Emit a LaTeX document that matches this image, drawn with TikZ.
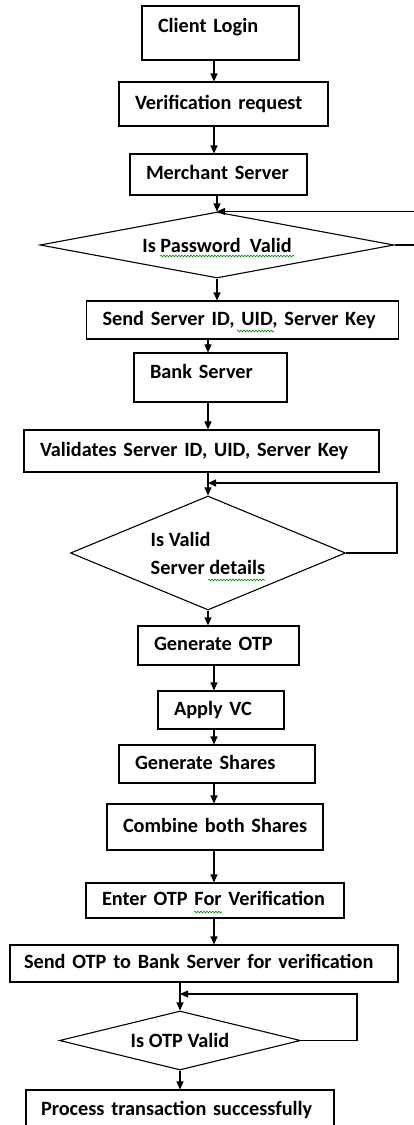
\documentclass[tikz,border=0pt]{standalone}
\usepackage{fontspec}
\setmainfont{Carlito}
\usetikzlibrary{arrows.meta,shapes.geometric,decorations.pathmorphing}
\tikzset{
  box/.style={rectangle,draw,line width=1.1pt,align=left,inner xsep=16pt,inner ysep=0pt,
    text height=14pt,text depth=4pt,font=\bfseries\fontsize{20.3}{24}\selectfont,
    execute at begin node=\hbox\bgroup,execute at end node=\egroup},
  dec/.style={diamond,draw,line width=1.1pt,inner sep=0pt,align=left,
    font=\bfseries\fontsize{20.3}{24}\selectfont},
  arr/.style={line width=1.1pt,-{Triangle[length=8pt,width=7pt]}},
  squig/.style={green!55!black,line width=0.6pt,decorate,decoration={snake,amplitude=0.9pt,segment length=3pt}}
}
\begin{document}
\begin{tikzpicture}[x=1pt,y=-1pt]
        \useasboundingbox (0,0) rectangle (414,1125);
        \coordinate(c1)at(214,0);\coordinate(c2)at(208,0);\coordinate(c3)at(180,0);\coordinate(rim)at(414,0);
        \coordinate(l2)at(397,483);\coordinate(l3)at(357,994);
        \node[box,text width=125pt,minimum height=54pt,text depth=15pt] (login) at (220.5,33) {Client Login};
        \node[box,text width=177pt,minimum height=44pt] (verif) at (223.5,104) {Verification  request};
        \node[box,text width=145pt,minimum height=41pt] (merchant) at (218.5,174.5) {Merchant Server};
        \node[dec,minimum width=354pt,minimum height=66pt,shape aspect=5.4] (pwd) at (217,245) {Is Password~ Valid};
        \node[box,text width=280pt,minimum height=38pt] (sendid) at (242.5,320) {Send Server ID, UID, Server Key};
        \node[box,text width=121pt,minimum height=49pt,text depth=12pt] (bank) at (210.5,377.5) {Bank Server};
        \node[box,text width=323pt,minimum height=42pt] (validate) at (201.5,451) {Validates Server ID, UID, Server Key};
        \node[dec,minimum width=275pt,minimum height=114pt,shape aspect=2.4] (details) at (208,553) {Is Valid\\[4pt]Server details};
        \node[box,text width=129pt,minimum height=39pt] (genotp) at (218.5,645.5) {Generate OTP};
        \node[box,text width=94pt,minimum height=38pt] (applyvc) at (221,710) {Apply VC};
        \node[box,text width=164pt,minimum height=38pt] (genshares) at (217,764) {Generate Shares};
        \node[box,text width=184pt,minimum height=46pt] (combine) at (215,827) {Combine  both  Shares};
        \node[box,text width=226pt,minimum height=35pt] (enterotp) at (215,900.5) {Enter OTP For Verification};
        \node[box,text width=360pt,minimum height=37pt,inner xsep=14pt] (sendotp) at (204,963.5) {Send OTP to Bank Server for verification};
        \node[dec,minimum width=241pt,minimum height=59pt,shape aspect=4.1] (otp) at (180,1040.5) {Is OTP Valid};
        \node[box,text width=278pt,minimum height=40pt,inner xsep=15pt] (process) at (180,1110) {Process transaction  successfully};
        \draw[arr] (login.south -| c1) -- (verif.north -| c1);
        \draw[arr] (verif.south -| c1) -- (merchant.north -| c1);
        \draw[arr] (merchant.south -| pwd.north) -- (pwd.north);
        \draw[arr] (pwd.south) -- (sendid.north -| pwd.south);
        \draw[line width=1.1pt] (pwd.east) -- (pwd.east -| rim);
        \draw[arr] (pwd.north -| rim) -- (pwd.north);
        \draw[arr] (sendid.south -| c2) -- (bank.north -| c2);
        \draw[arr] (bank.south -| c2) -- (validate.north -| c2);
        \draw[arr] (validate.south -| c2) -- (details.north);
        \draw[arr] (details.east) -| (l2) -- (l2 -| details.north);
        \draw[arr] (details.south) -- (genotp.north -| c2);
        \draw[arr] (genotp.south -| c1) -- (applyvc.north -| c1);
        \draw[arr] (applyvc.south -| c1) -- (genshares.north -| c1);
        \draw[arr] (genshares.south -| c1) -- (combine.north -| c1);
        \draw[arr] (combine.south -| c1) -- (enterotp.north -| c1);
        \draw[arr] (enterotp.south -| c1) -- (sendotp.north -| c1);
        \draw[arr] (sendotp.south -| c3) -- (otp.north);
        \draw[arr] (otp.east) -| (l3) -- (l3 -| otp.north);
        \draw[arr] (otp.south) -- (process.north -| c3);
        \draw[squig] (160,256) -- (294,256);
        \draw[squig] (237,331) -- (274,331);
        \draw[squig] (208,580) -- (265,580);
        \draw[squig] (194,912) -- (222,912);
      \end{tikzpicture}
\end{document}
